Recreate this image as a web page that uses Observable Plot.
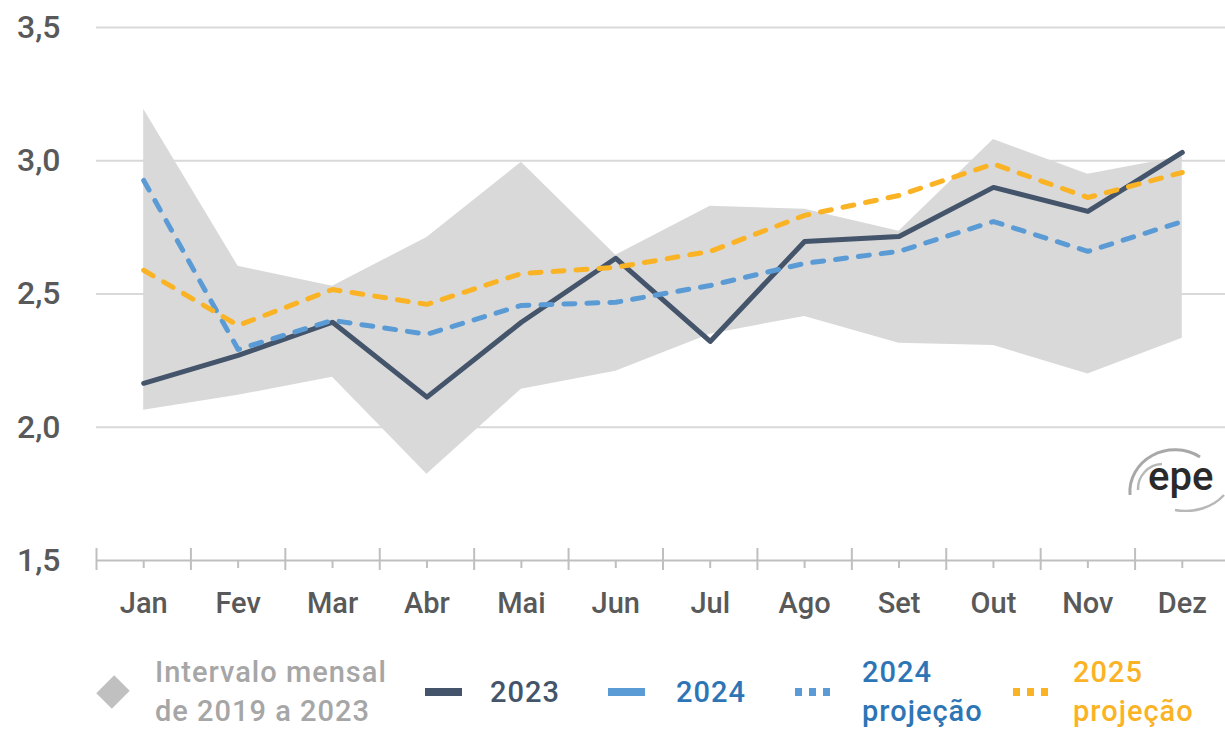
<!DOCTYPE html>
<html><head><meta charset="utf-8">
<script src="https://cdn.jsdelivr.net/npm/d3@7"></script>
<script src="https://cdn.jsdelivr.net/npm/@observablehq/plot@0.6"></script>
<style>
body{margin:0;background:#fff;font-family:Roboto,"Noto Sans",sans-serif;}
#wrap{position:relative;width:1225px;height:730px;overflow:hidden;background:#fff;}
#chart{position:absolute;left:0;top:0;}
.lg{position:absolute;font-size:29px;line-height:39px;white-space:nowrap;letter-spacing:1px;font-weight:500;}
.sw{position:absolute;height:8px;}
.dot{position:absolute;width:7px;height:8px;}
#logo{position:absolute;left:1120px;top:440px;}
</style></head><body>
<div id="wrap">
  <div id="chart"></div>
  <div id="logo"><svg width="105" height="72" viewBox="0 0 105 72">
    <path d="M10,55 A45,42 0 0 1 80,17" fill="none" stroke="#a8a8a8" stroke-width="3"/>
    <path d="M18,50 A25,25 0 0 1 42,24" fill="none" stroke="#b8b8b8" stroke-width="2.5"/>
    <path d="M55,70 A48,40 0 0 0 104,55" fill="none" stroke="#b8b8b8" stroke-width="2.5"/>
    <text x="28" y="50" font-family="Roboto,sans-serif" font-size="40" font-weight="500" fill="#2a2a2a">epe</text>
  </svg></div>
  <div id="legend"></div>
</div>
<script>
const months = ["Jan","Fev","Mar","Abr","Mai","Jun","Jul","Ago","Set","Out","Nov","Dez"];
const v2023 = [2.165, 2.27, 2.394, 2.113, 2.394, 2.634, 2.322, 2.697, 2.716, 2.90, 2.81, 3.031];
const v2024proj = [2.926, 2.292, 2.401, 2.349, 2.457, 2.469, 2.532, 2.615, 2.66, 2.772, 2.66, 2.772];
const v2025proj = [2.589, 2.382, 2.517, 2.461, 2.577, 2.60, 2.66, 2.795, 2.87, 2.988, 2.862, 2.956];
const bandMax = [3.193, 2.604, 2.529, 2.712, 2.994, 2.645, 2.829, 2.818, 2.735, 3.08, 2.949, 3.016];
const bandMin = [2.064, 2.12, 2.188, 1.824, 2.143, 2.21, 2.349, 2.416, 2.315, 2.307, 2.2, 2.334];
const yTicks = [1.5, 2.0, 2.5, 3.0, 3.5];

const idx = months.map((m, i) => i);
const boundaries = months.map((m, i) => i - 0.5).concat([months.length - 0.5]);
const band = idx.map(i => ({i, lo: bandMin[i], hi: bandMax[i]}));
const ser = (vals) => idx.map(i => ({i, v: vals[i]}));
const fmt = d => d.toFixed(1).replace(".", ",");

const plot = Plot.plot({
  width: 1225, height: 640,
  marginTop: 27, marginBottom: 80, marginLeft: 96, marginRight: 0,
  x: {type: "linear", domain: [-0.5, 11.5], range: [96, 1229], label: null},
  y: {domain: [1.5, 3.5], label: null},
  style: {fontFamily: "Roboto, sans-serif", background: "transparent", overflow: "hidden"},
  marks: [
    Plot.ruleY(yTicks.slice(1), {y: d => d, x1: -0.5, x2: 11.5, stroke: "#D9D9D9", strokeWidth: 2}),
    Plot.areaY(band, {x: "i", y1: "lo", y2: "hi", fill: "#D9D9D9"}),
    Plot.ruleY([yTicks[0]], {y: d => d, x1: -0.5, x2: 11.5, stroke: "#BFBFBF", strokeWidth: 2}),
    Plot.ruleX(boundaries, {x: d => d, y1: yTicks[0], y2: yTicks[0], insetTop: -12, insetBottom: -10, stroke: "#BFBFBF", strokeWidth: 2}),
    Plot.ruleX(idx, {x: d => d, y1: yTicks[0], y2: yTicks[0], insetTop: 1, insetBottom: -8, stroke: "#BFBFBF", strokeWidth: 2}),
    Plot.axisX(idx, {tickSize: 0, tickPadding: 32, tickFormat: i => months[i], fontSize: 29, fontWeight: 500, fill: "#595959", label: null}),
    Plot.axisY(yTicks, {tickSize: 0, tickPadding: 36, tickFormat: fmt, fontSize: 32, fontWeight: 500, fill: "#595959", label: null}),
    Plot.line(ser(v2023), {x: "i", y: "v", stroke: "#44546A", strokeWidth: 5, strokeLinejoin: "round", strokeLinecap: "round"}),
    Plot.line(ser(v2024proj), {x: "i", y: "v", stroke: "#5B9BD5", strokeWidth: 5, strokeDasharray: "11,12", strokeLinejoin: "round", strokeLinecap: "round"}),
    Plot.line(ser(v2025proj), {x: "i", y: "v", stroke: "#FBB326", strokeWidth: 5, strokeDasharray: "11,12", strokeLinejoin: "round", strokeLinecap: "round"})
  ]
});
document.getElementById("chart").appendChild(plot);

// legend
const legendItems = [
  {label: "Intervalo mensal<br>de 2019 a 2023", kind: "diamond", color: "#C0C0C0", text: "#A6A6A6", sx: 97, tx: 155},
  {label: "2023", kind: "solid", color: "#44546A", text: "#44546A", sx: 425, tx: 490},
  {label: "2024", kind: "solid", color: "#5B9BD5", text: "#2E75B6", sx: 608, tx: 676},
  {label: "2024<br>projeção", kind: "dots", color: "#5B9BD5", text: "#2E75B6", sx: 795, tx: 862},
  {label: "2025<br>projeção", kind: "dots", color: "#FBB326", text: "#FBB326", sx: 1013, tx: 1073}
];
const lg = document.getElementById("legend");
legendItems.forEach(it => {
  const t = document.createElement("div");
  t.className = "lg";
  t.style.left = it.tx + "px";
  t.style.color = it.text;
  const two = it.label.includes("<br>");
  t.style.top = (two ? 653 : 673) + "px";
  t.innerHTML = it.label;
  lg.appendChild(t);
  if (it.kind === "diamond") {
    const d = document.createElement("div");
    d.style.cssText = `position:absolute;left:${it.sx + 5}px;top:681px;width:22px;height:22px;background:${it.color};transform:rotate(45deg) scaleY(1.15);`;
    lg.appendChild(d);
  } else if (it.kind === "solid") {
    const s = document.createElement("div");
    s.className = "sw";
    s.style.cssText += `left:${it.sx}px;top:688px;width:37px;background:${it.color};`;
    lg.appendChild(s);
  } else {
    for (let k = 0; k < 3; k++) {
      const s = document.createElement("div");
      s.className = "dot";
      s.style.cssText += `left:${it.sx + k * 14}px;top:688px;background:${it.color};`;
      lg.appendChild(s);
    }
  }
});
</script>
</body></html>
